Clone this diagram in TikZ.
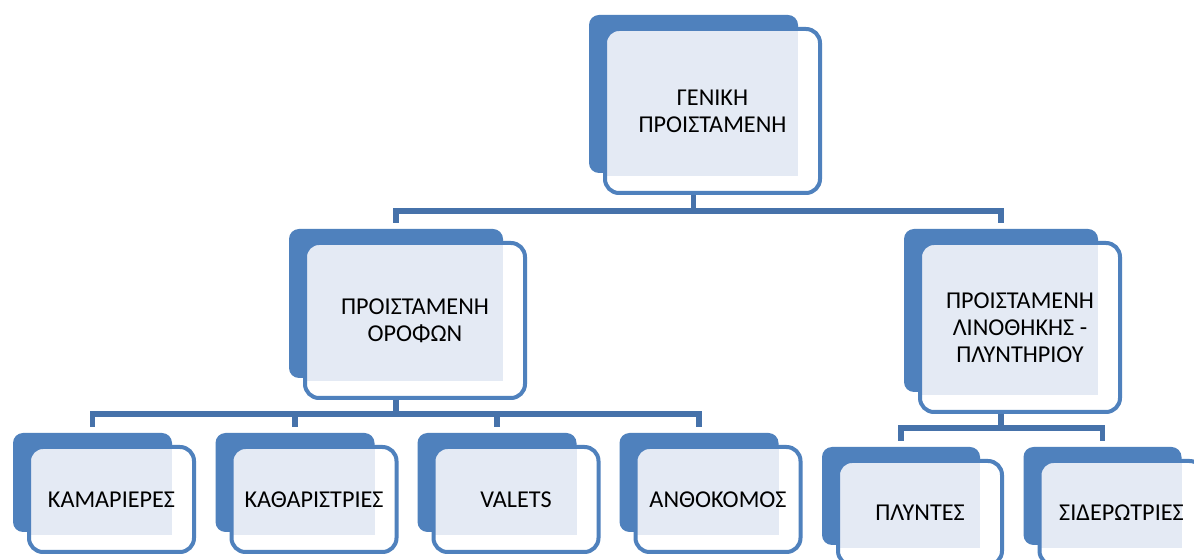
\documentclass[tikz,border=0pt]{standalone}
\usepackage{fontspec}
\setmainfont{Carlito}
\usepackage{tikz}
\usetikzlibrary{positioning}

\definecolor{boxblue}{HTML}{4F81BD}
\definecolor{linkblue}{HTML}{4672AA}
\definecolor{dotblue}{HTML}{E4EAF4}

% back card, front card with dotted area and text
\newcommand{\orgunit}[6]{% name, centre x, centre y, width, height, text
  \node[backbox, minimum width=#4*0.5pt, minimum height=#5*0.5pt] (#1b) at (#2,#3) {};
  \node[frontbox, minimum width=(#4+6)*0.5pt, minimum height=(#5+6)*0.5pt,
        path picture={\fill[dotblue, sharp corners] (path picture bounding box.north west) rectangle ([yshift=-1.5pt]#1b.south east);}]
        (#1) at (#2+19,#3+17) {#6};
}

\begin{document}
\begin{tikzpicture}[x=0.5pt, y=-0.5pt,
    backbox/.style={fill=boxblue, rounded corners=5pt, inner sep=0pt},
    frontbox/.style={draw=boxblue, line width=2pt, fill=white, rounded corners=7pt,
                     align=center, font=\fontsize{12.1}{13.5}\selectfont},
    conn/.style={draw=linkblue, line width=2.6pt}]
    \path[use as bounding box, fill=white] (0,0) rectangle (1194,560);

    % Top
    \orgunit{gen}{693.5}{94}{209}{158}{ΓΕΝΙΚΗ\\ΠΡΟΙΣΤΑΜΕΝΗ}

    % Middle
    \orgunit{orof}{396}{303.5}{214}{149}{ΠΡΟΙΣΤΑΜΕΝΗ\\ΟΡΟΦΩΝ}
    \orgunit{lino}{1001}{310.5}{194}{163}{ΠΡΟΙΣΤΑΜΕΝΗ\\ΛΙΝΟΘΗΚΗΣ -\\ΠΛΥΝΤΗΡΙΟΥ}

    % Bottom
    \orgunit{kam}{92.5}{482.5}{159}{99}{ΚΑΜΑΡΙΕΡΕΣ}
    \orgunit{kath}{295}{482.5}{159}{99}{ΚΑΘΑΡΙΣΤΡΙΕΣ}
    \orgunit{val}{497}{482.5}{159}{99}{VALETS}
    \orgunit{anth}{699}{482.5}{159}{99}{ΑΝΘΟΚΟΜΟΣ}
    \orgunit{plyn}{901}{496}{158}{98}{ΠΛΥΝΤΕΣ}
    \orgunit{sid}{1102.5}{496}{158}{98}{ΣΙΔΕΡΩΤΡΙΕΣ}

    % Connectors
    \coordinate (bus1) at (0,211);
    \coordinate (bus2) at (0,414);
    \coordinate (bus3) at (0,428);

    \draw[conn] (genb |- gen.south) -- (genb |- bus1) -| ([yshift=3pt]orofb.north);
    \draw[conn] (genb |- bus1) -| ([yshift=3pt]linob.north);

    \draw[conn] (orofb |- orof.south) -- (orofb |- bus2);
    \draw[conn] ([yshift=3pt]kamb.north) |- (anthb |- bus2) -- ([yshift=3pt]anthb.north);
    \foreach \n in {kathb,valb}
        \draw[conn] (\n |- bus2) -- ([yshift=3pt]\n.north);

    \draw[conn] (linob |- lino.south) -- (linob |- bus3);
    \draw[conn] ([yshift=3pt]plynb.north) |- (sidb |- bus3) -- ([yshift=3pt]sidb.north);
\end{tikzpicture}
\end{document}
